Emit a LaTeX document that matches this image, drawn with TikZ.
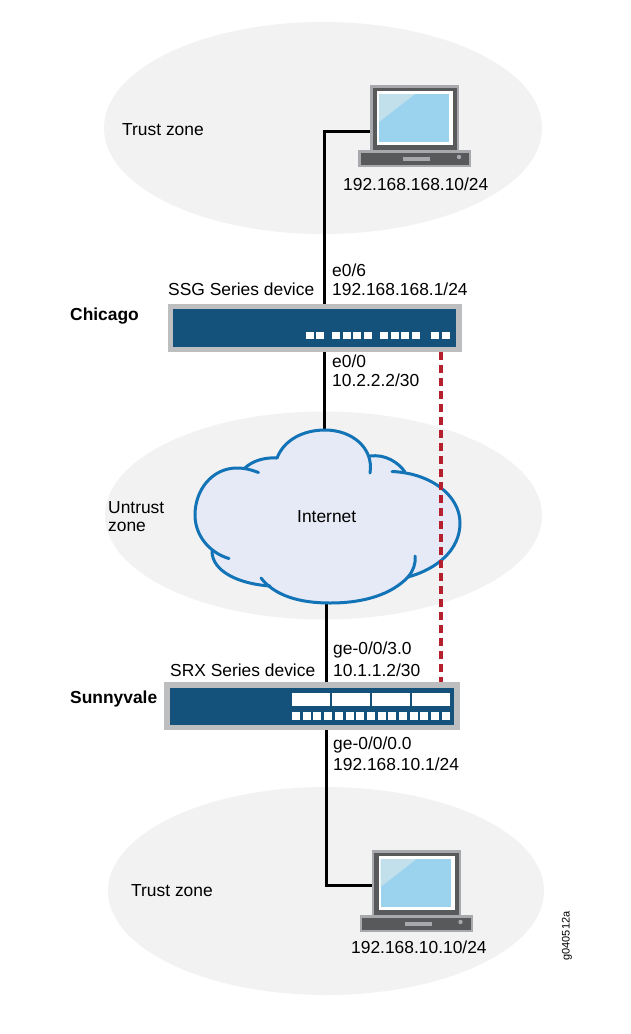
\documentclass[tikz,border=0pt]{standalone}
\usepackage{fontspec}
\setmainfont{Liberation Sans}
\definecolor{zone}{HTML}{F2F2F2}
\definecolor{devblue}{HTML}{14527C}
\definecolor{devgray}{HTML}{BCBEC0}
\definecolor{lapdark}{HTML}{58595B}
\definecolor{lapgray}{HTML}{A7A9AC}
\definecolor{screen}{HTML}{9BD3EF}
\definecolor{screenlt}{HTML}{C2E0EC}
\definecolor{cloudfill}{HTML}{E6EAF6}
\definecolor{cloudline}{HTML}{1273B7}
\definecolor{vpn}{HTML}{B5202E}
\tikzset{
  zonearea/.style={fill=zone,draw=none},
  lbl/.style={font=\fontsize{17.4pt}{20pt}\selectfont,inner sep=0pt,anchor=west,text=black},
  boldlbl/.style={lbl,font=\fontsize{17.4pt}{20pt}\selectfont\bfseries},
  link/.style={draw=black,line width=3pt},
  tunnel/.style={draw=vpn,line width=3.6pt,dash pattern=on 8pt off 5pt},
  cloudstroke/.style={draw=cloudline,line width=3pt,line cap=round},
  devouter/.style={fill=devgray,draw=none,inner sep=0pt},
  port/.style={fill=white,draw=none}
}
\newcommand{\laptop}[2]{%
  \begin{scope}[shift={(#1,#2)}]
    \fill[lapgray] (0,0) rectangle (89,65);
    \fill[lapdark] (2.5,3) rectangle (87,65);
    \fill[white] (7,6) rectangle (83,60);
    \fill[screen] (9,9) rectangle (79,57);
    \fill[screenlt] (9,9) -- (45,9) -- (9,37) -- cycle;
    \fill[lapgray] (-12,65) rectangle (101,82);
    \fill[lapdark] (-9.5,68) rectangle (99,80);
    \fill[lapgray] (33,72) rectangle (60,75.5);
    \fill[lapgray] (89,72) circle (2.2);
  \end{scope}}
\begin{document}
\begin{tikzpicture}[x=1pt,y=-1pt]
\useasboundingbox (0,0) rectangle (630,1034);
\fill[white] (0,0) rectangle (630,1034);
% zones
\fill[zonearea] (323,128) ellipse [x radius=219,y radius=106];
\fill[zonearea] (323.5,515.5) ellipse [x radius=218.5,y radius=104];
\fill[zonearea] (326,891) ellipse [x radius=218,y radius=104];
% named anchors
\node[devouter,minimum width=294pt,minimum height=48pt] (ssg) at (315,328) {};
\node[devouter,minimum width=296pt,minimum height=48pt] (srx) at (312,706) {};
\coordinate (topcorner) at (324,131);
\coordinate (toplap) at (370,131);
\coordinate (botcorner) at (326,885);
\coordinate (botlap) at (372,885);
\coordinate (ssgup) at (324,304);
\coordinate (ssgdown) at (324,352);
\coordinate (cloudtop) at (324,431);
\coordinate (cloudbot) at (326,603);
\coordinate (srxup) at (326,682);
\coordinate (srxdown) at (326,730);
\coordinate (tunnelA) at (441,352);
\coordinate (tunnelB) at (441,682);
% links
\draw[link,line join=miter] (toplap) -- (topcorner) -- (ssgup);
\draw[link] (ssgdown) -- (cloudtop);
\draw[link] (cloudbot) -- (srxup);
\draw[link,line join=miter] (srxdown) -- (botcorner) -- (botlap);
% cloud
\fill[cloudfill] (277,458) .. controls (284,438) and (303,430) .. (325,430)
  .. controls (345,430) and (362,440) .. (370,456)
  .. controls (385,454) and (398,462) .. (405,472)
  .. controls (437,481) and (460,497) .. (460,523)
  .. controls (460,550) and (435,569) .. (408,577)
  .. controls (390,596) and (360,603) .. (328,603)
  .. controls (305,603) and (285,597) .. (270,586)
  .. controls (240,584) and (212,572) .. (212,551)
  .. controls (200,542) and (195,528) .. (195,515)
  .. controls (195,488) and (215,468) .. (245,468)
  .. controls (252,461) and (265,457) .. (277,458) -- cycle;
\draw[cloudstroke] (258.5,472.5) .. controls (248,468.5) and (242,468) .. (237,468)
  .. controls (212,468) and (195,490) .. (195,515) .. controls (195,536) and (210,553) .. (229,558.5);
\draw[cloudstroke] (212,551) .. controls (212,572) and (240,584) .. (270,586);
\draw[cloudstroke] (261,578) .. controls (275,596) and (300,603) .. (330,603)
  .. controls (365,603) and (392,594) .. (408,577) .. controls (413,571) and (416,564) .. (415,556);
\draw[cloudstroke] (408,577) .. controls (437,569) and (460,550) .. (460,523)
  .. controls (460,495) and (430,473) .. (392,471.5);
\draw[cloudstroke] (370,456) .. controls (385,454) and (398,462) .. (405,472);
\draw[cloudstroke] (370,473) .. controls (374,448) and (352,430) .. (325,430)
  .. controls (303,430) and (284,440) .. (277,458);
\draw[cloudstroke] (245,468) .. controls (252,461) and (265,457) .. (277,458);
% tunnel
\draw[tunnel] (tunnelA) -- (tunnelB);
% SSG device
\fill[devblue] (173,309) rectangle (456,347);
\foreach \x in {305.5,316,332,342.5,353,363.5,380,390.5,401,411.5,431,441.5}
  \fill[port] (\x,332) rectangle ++(8,7);
% SRX device
\fill[devblue] (170,688) rectangle (454,725);
\foreach \x in {292,332,372,412}
  \fill[port] (\x,693) rectangle ++(38,13);
\foreach \i in {0,...,14}
  \fill[port] ({292+\i*10.7},712) rectangle ++(8,7.5);
% laptops
\laptop{370}{85}
\laptop{371.5}{850}
% text
\node[lbl] (t1) at (122,129.5) {Trust zone};
\node[lbl] (t2) at (343,184) {192.168.168.10/24};
\node[lbl] (t3) at (332,270) {e0/6};
\node[lbl] (t4) at (332,289) {192.168.168.1/24};
\node[lbl] (t5) at (168,289) {SSG Series device};
\node[boldlbl] (t6) at (70,316) {Chicago};
\node[lbl] (t7) at (332,361) {e0/0};
\node[lbl] (t8) at (332,380) {10.2.2.2/30};
\node[lbl] (t9) at (108,507.5) {Untrust};
\node[lbl] (t10) at (108,527) {zone};
\node[lbl] (t11) at (297,516.5) {Internet};
\node[lbl] (t12) at (333,650) {ge-0/0/3.0};
\node[lbl] (t13) at (333,670) {10.1.1.2/30};
\node[lbl] (t14) at (170,670) {SRX Series device};
\node[boldlbl] (t15) at (70,699) {Sunnyvale};
\node[lbl] (t16) at (333,745) {ge-0/0/0.0};
\node[lbl] (t17) at (333,764) {192.168.10.1/24};
\node[lbl] (t18) at (131,891) {Trust zone};
\node[lbl] (t19) at (351,947.5) {192.168.10.10/24};
\node[font=\fontsize{11pt}{13pt}\selectfont,rotate=90,inner sep=0pt] (t20) at (567,936) {g040512a};
\end{tikzpicture}
\end{document}
